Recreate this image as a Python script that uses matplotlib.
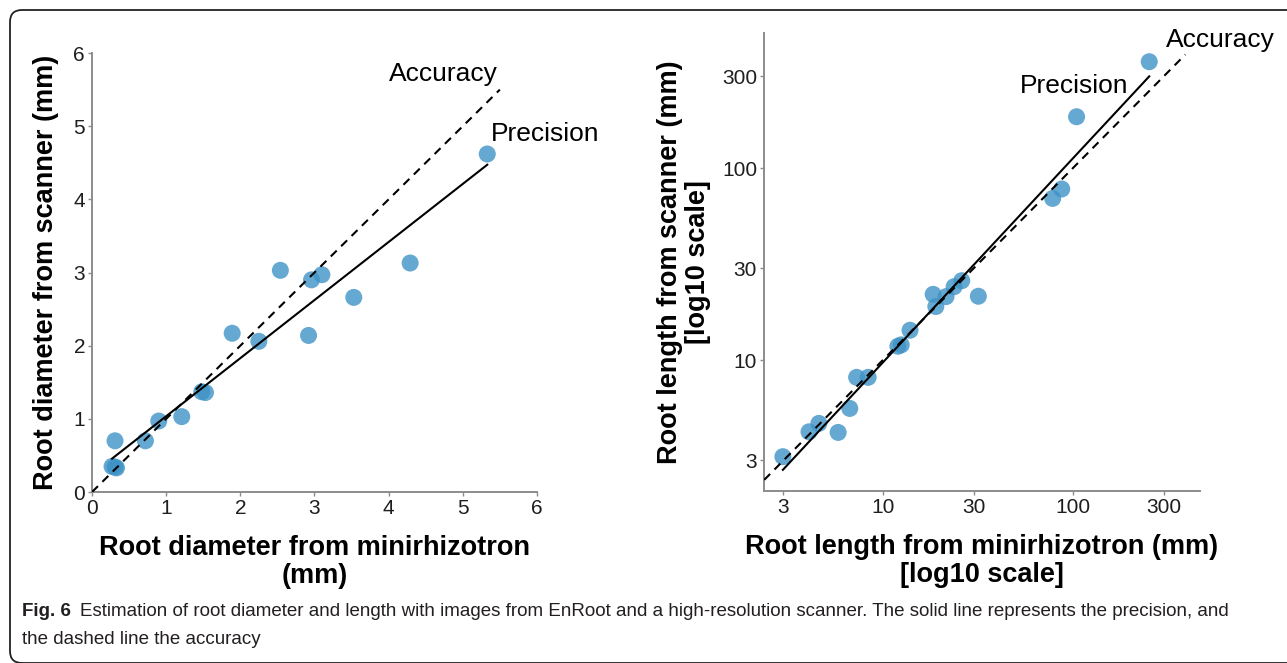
import numpy as np
import matplotlib
matplotlib.use("Agg")
import matplotlib.pyplot as plt
from matplotlib.patches import FancyBboxPatch
from matplotlib.transforms import IdentityTransform

plt.rcParams['font.family'] = ['Liberation Sans', 'DejaVu Sans']

# root diameter (mm): minirhizotron vs scanner
diam_mini = [0.31, 0.27, 0.31, 0.33, 0.72, 0.90, 1.21, 1.48, 1.53, 1.89, 2.25,
             2.54, 2.92, 2.96, 3.10, 3.53, 4.29, 5.33]
diam_scan = [0.70, 0.35, 0.34, 0.33, 0.70, 0.97, 1.03, 1.37, 1.36, 2.17, 2.06,
             3.03, 2.14, 2.90, 2.97, 2.66, 3.13, 4.62]

# root length (mm): minirhizotron vs scanner
len_mini = [2.98, 4.09, 4.61, 5.82, 6.70, 7.28, 8.37, 12.0, 12.5, 13.9, 18.4,
            19.0, 21.5, 23.7, 26.0, 31.8, 78.2, 87.3, 104.5, 252]
len_scan = [3.14, 4.23, 4.68, 4.20, 5.60, 8.13, 8.13, 11.8, 12.0, 14.3, 22.0,
            19.0, 21.4, 24.1, 25.9, 21.5, 69.5, 77.8, 185, 358]

diam_ticks = [0, 1, 2, 3, 4, 5, 6]
len_ticks = [3, 10, 30, 100, 300]

POINT_COLOR = '#3f93c6'
AXIS_COLOR = '#8c8c8c'
TEXT_COLOR = '#1e1e1e'
LABEL_SIZE = 19.5


def styleAxes(ax):
    for side in ['top', 'right']:
        ax.spines[side].set_visible(False)
    for side in ['left', 'bottom']:
        ax.spines[side].set_color(AXIS_COLOR)
        ax.spines[side].set_linewidth(1.4)
    ax.tick_params(colors=AXIS_COLOR, labelcolor=TEXT_COLOR, labelsize=15,
                   length=3, width=1, pad=2)
    ax.tick_params(which='minor', length=0)


fig = plt.figure(figsize=(12.87, 6.63), dpi=100)

# left panel: diameter
ax1 = fig.add_axes([0.0715, 0.2579, 0.3457, 0.6621])
ax1.scatter(diam_mini, diam_scan, s=150, color=POINT_COLOR, alpha=0.8,
            edgecolors='none', zorder=3)
slope, icpt = np.polyfit(diam_mini, diam_scan, 1)
xs = np.array([min(diam_mini), max(diam_mini)])
ax1.plot(xs, slope*xs + icpt, color='black', lw=1.5, zorder=4)
ax1.plot([0, 5.5], [0, 5.5], color='black', lw=1.5, ls=(0, (4, 3)), zorder=4)
ax1.text(4.0, 5.72, 'Accuracy', fontsize=19, va='center', ha='left')
ax1.text(5.38, 4.9, 'Precision', fontsize=19, va='center', ha='left',
         clip_on=False)
ax1.set_xlim(0, 6)
ax1.set_ylim(0, 6)
ax1.set_xticks(diam_ticks)
ax1.set_yticks(diam_ticks)
styleAxes(ax1)
ax1.set_xlabel('Root diameter from minirhizotron\n(mm)', fontsize=LABEL_SIZE,
               fontweight='bold', labelpad=12, linespacing=1.1)
ax1.set_ylabel('Root diameter from scanner (mm)', fontsize=LABEL_SIZE,
               fontweight='bold', labelpad=10)

# right panel: length, log scale
ax2 = fig.add_axes([0.5936, 0.2594, 0.3388, 0.6913])
ax2.set_xscale('log')
ax2.set_yscale('log')
ax2.scatter(len_mini, len_scan, s=150, color=POINT_COLOR, alpha=0.8,
            edgecolors='none', zorder=3)
lslope, licpt = np.polyfit(np.log10(len_mini), np.log10(len_scan), 1)
lx = np.log10([min(len_mini), max(len_mini)])
ax2.plot(10**lx, 10**(lslope*lx + licpt), color='black', lw=1.5, zorder=4)
ax2.plot([2.1, 390], [2.1, 390], color='black', lw=1.5, ls=(0, (4, 3)),
         zorder=4)
ax2.text(308, 464, 'Accuracy', fontsize=19, va='center', ha='left',
         clip_on=False)
ax2.text(52.6, 267, 'Precision', fontsize=19, va='center', ha='left')
ax2.set_xlim(2.37, 466)
ax2.set_ylim(2.08, 507)
ax2.set_xticks(len_ticks)
ax2.set_xticklabels([str(t) for t in len_ticks])
ax2.set_yticks(len_ticks)
ax2.set_yticklabels([str(t) for t in len_ticks])
styleAxes(ax2)
ax2.set_xlabel('Root length from minirhizotron (mm)\n[log10 scale]',
               fontsize=LABEL_SIZE, fontweight='bold', labelpad=12,
               linespacing=1.1)
ax2.set_ylabel('Root length from scanner (mm)\n[log10 scale]',
               fontsize=LABEL_SIZE, fontweight='bold', labelpad=8,
               linespacing=1.1)

# frame and caption
frame = FancyBboxPatch((10, 0), 1330, 653, boxstyle='round,pad=0,rounding_size=12',
                       transform=IdentityTransform(), fill=False,
                       edgecolor='#222222', lw=1.3, clip_on=False)
fig.patches.append(frame)

capFont = ['Liberation Sans Narrow', 'Liberation Sans', 'DejaVu Sans']
fig.text(22/1287, 1 - 612/663, 'Fig. 6', fontsize=13.5, fontweight='bold',
         family=capFont, va='center', color='#231f20')
fig.text(80/1287, 1 - 612/663,
         'Estimation of root diameter and length with images from EnRoot and a '
         'high-resolution scanner. The solid line represents the precision, and',
         fontsize=13.5, family=capFont, va='center', color='#231f20')
fig.text(22/1287, 1 - 640/663, 'the dashed line the accuracy', fontsize=13.5,
         family=capFont, va='center', color='#231f20')

fig.savefig('out.png', dpi=100)
